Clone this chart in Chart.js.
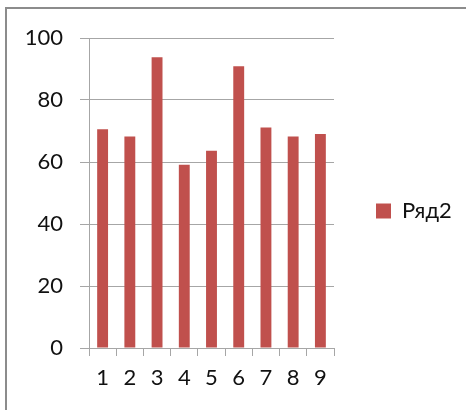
<!DOCTYPE html>
<html>
<head>
<meta charset="utf-8">
<script src="https://cdn.jsdelivr.net/npm/chart.js@4/dist/chart.umd.min.js"></script>
<style>
  html, body { margin: 0; padding: 0; background: #fff; }
  #wrap { position: relative; width: 466px; height: 410px; overflow: hidden; }
  #frame {
    position: absolute; left: 5px; top: 7px; width: 480px; height: 420px;
    border: 2px solid #8c8c8c; box-sizing: border-box;
  }
  #c { position: absolute; left: 0; top: 0; }
</style>
</head>
<body>
<div id="wrap">
  <div id="frame"></div>
  <canvas id="c" width="466" height="410"></canvas>
</div>
<script>
const categories = ['1', '2', '3', '4', '5', '6', '7', '8', '9'];
const seriesName = 'Ряд2';
const seriesValues = [70.6, 68.2, 93.8, 59.1, 63.6, 90.9, 71.1, 68.2, 69.0];
const yTicks = [0, 20, 40, 60, 80, 100];

const FONT = 'Lato, Carlito, Calibri, sans-serif';
const GRID = '#a6a6a6';
const TEXT = '#111';

// pin the legend width so the plot ends where the reference ends,
// and nudge it down so the entry sits level with the reference
const legendPlace = {
  id: 'legendPlace',
  beforeLayout(chart) {
    const lg = chart.legend;
    if (lg && !lg._pinned) {
      const fit = lg.fit;
      lg.fit = function () {
        fit.call(this);
        this.width = 132;
      };
      lg._pinned = true;
    }
  },
  afterLayout(chart) {
    if (chart.legend) chart.legend.top += 36;
  },
};

Chart.defaults.font.family = FONT;
Chart.defaults.color = TEXT;

new Chart(document.getElementById('c'), {
  type: 'bar',
  data: {
    labels: categories,
    datasets: [{
      label: seriesName,
      data: seriesValues,
      backgroundColor: '#c0504d',
      borderWidth: 0,
      barPercentage: 0.4,
      categoryPercentage: 1,
    }],
  },
  options: {
    responsive: false,
    animation: false,
    layout: { padding: { top: 38, left: 0, right: 0, bottom: 0 } },
    plugins: {
      tooltip: { enabled: false },
      legend: {
        position: 'right',
        fullSize: false,
        labels: {
          boxWidth: 15,
          boxHeight: 15,
          padding: 42,
          font: { size: 22 },
          color: TEXT,
        },
      },
    },
    scales: {
      x: {
        grid: {
          display: true,
          drawOnChartArea: false,
          tickLength: 8,
          color: GRID,
          offset: true,
        },
        border: { color: GRID, width: 1 },
        ticks: { font: { size: 22 }, padding: 9, maxRotation: 0 },
        afterFit(scale) { scale.height = 62; },
      },
      y: {
        min: 0,
        max: 100,
        afterBuildTicks(scale) { scale.ticks = yTicks.map(v => ({ value: v })); },
        grid: { color: GRID, tickLength: 9 },
        border: { color: GRID, width: 1 },
        ticks: { font: { size: 22 }, padding: 17 },
        afterFit(scale) { scale.width = 89; },
      },
    },
  },
  plugins: [legendPlace],
});
</script>
</body>
</html>
